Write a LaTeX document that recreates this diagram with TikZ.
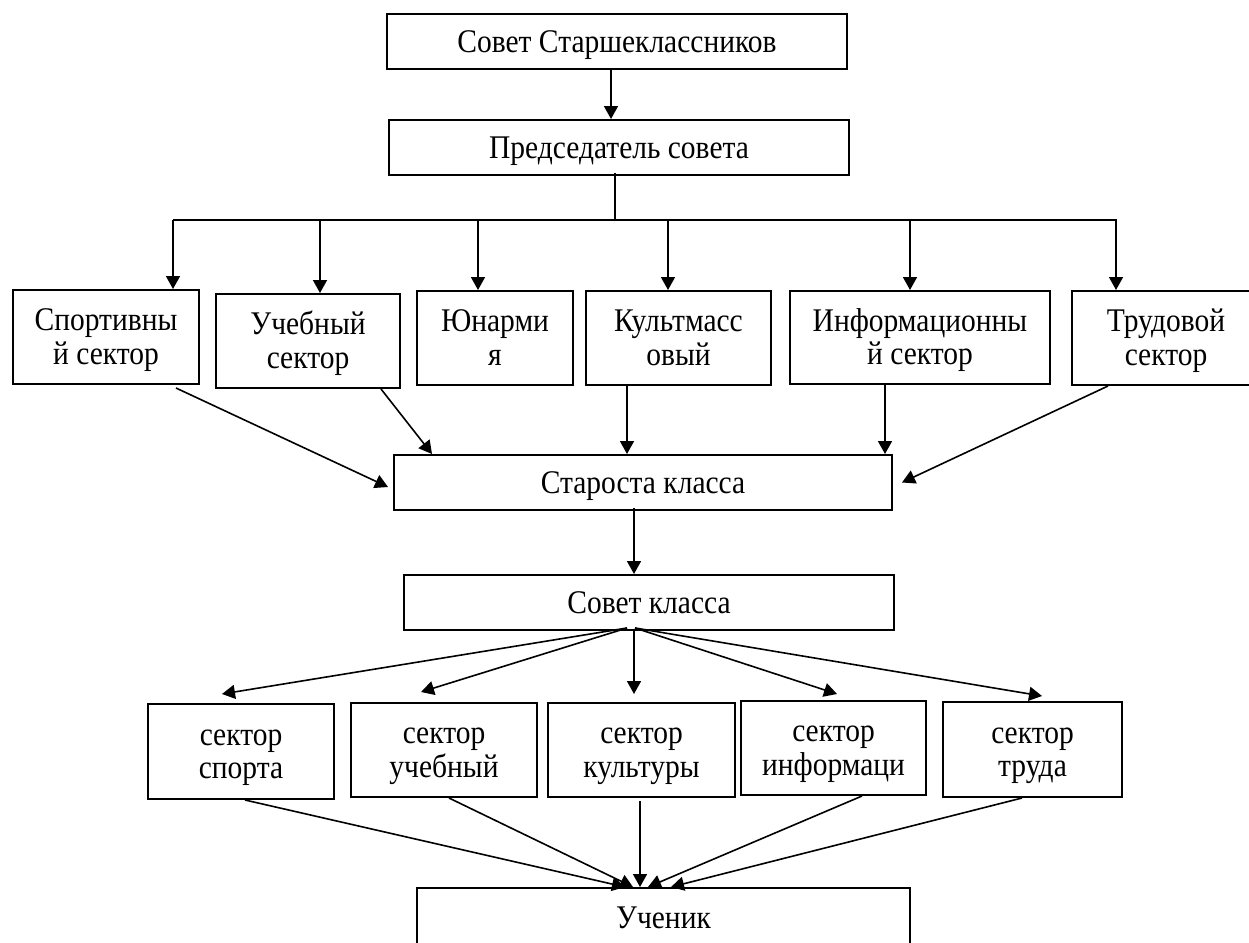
\documentclass[tikz,border=0pt]{standalone}
\usepackage{fontspec}
\usepackage{graphicx}
\setmainfont{Liberation Serif}
\usetikzlibrary{arrows.meta,calc}
\newcommand\vsone[1]{\scalebox{1}[1.12]{#1}}
\newcommand\twol[2]{\raisebox{0pt}[20pt][33pt]{\scalebox{1}[1.12]{\begin{tabular}[t]{@{}c@{}}#1\\#2\end{tabular}}}}
\begin{document}
\begin{tikzpicture}[x=1pt,y=-1pt,
  box/.style={draw,line width=2pt,inner sep=0pt,font=\fontsize{29.5}{30}\selectfont},
  one/.style={box,text height=21.3pt,text depth=0pt},
  arr/.style={line width=1.6pt,-{Triangle[length=13pt,width=14pt]}},
  ln/.style={line width=1.6pt}]
\useasboundingbox (0,0) rectangle (1249,942);
\clip (0,0) rectangle (1249,942);
\fill[white] (0,0) rectangle (1249,942);
% nodes
\node[one,minimum width=460pt,minimum height=55pt] (top) at (617,41.5) {\vsone{Совет Старшеклассников}};
\node[one,minimum width=460pt,minimum height=55pt] (pred) at (619,147.5) {\vsone{Председатель совета}};
\node[box,minimum width=186pt,minimum height=94pt] (spo) at (106,337) {\twol{Спортивны}{й сектор}};
\node[box,minimum width=184pt,minimum height=94pt] (ucb) at (308,341) {\twol{Учебный}{сектор}};
\node[box,minimum width=156pt,minimum height=94pt] (yun) at (495,338) {\twol{Юнарми}{я}};
\node[box,minimum width=185pt,minimum height=94pt] (kul) at (678.5,338) {\twol{Культмасс}{овый}};
\node[box,minimum width=260pt,minimum height=93pt] (inf) at (920,337.5) {\twol{Информационны}{й сектор}};
\node[box,minimum width=188pt,minimum height=94pt] (trd) at (1166,338) {\twol{Трудовой}{сектор}};
\node[one,minimum width=498pt,minimum height=55pt] (sta) at (643,482.5) {\vsone{Староста класса}};
\node[one,minimum width=490pt,minimum height=55pt] (sov) at (649,602.5) {\vsone{Совет класса}};
\node[box,minimum width=186pt,minimum height=95pt] (ls) at (241,751.5) {\twol{сектор}{спорта}};
\node[box,minimum width=186pt,minimum height=94pt] (lu) at (444,750) {\twol{сектор}{учебный}};
\node[box,minimum width=187pt,minimum height=94pt] (lk) at (641.5,750) {\twol{сектор}{культуры}};
\node[box,minimum width=185pt,minimum height=94pt] (li) at (833.5,748) {\twol{сектор}{информаци}};
\node[box,minimum width=179pt,minimum height=95pt] (lt) at (1032.5,749.5) {\twol{сектор}{труда}};
\node[one,minimum width=493pt,minimum height=60pt] (uch) at (663.5,918) {\vsone{Ученик}};
% top connectors
\draw[arr] ([xshift=-6pt]top.south) -- ([xshift=-6pt]top.south |- pred.north);
\coordinate (b1) at (173,220);
\coordinate (b2) at (320,220);
\coordinate (b3) at (478,220);
\coordinate (b4) at (668,220);
\coordinate (b5) at (910,220);
\coordinate (b6) at (1116,220);
\draw[ln] ([xshift=-4pt,yshift=3pt]pred.south) -- ([xshift=-4pt]pred.south |- b1);
\draw[ln] (b1) -- ([xshift=1pt]b6);
\draw[arr] (b1) -- (b1 |- spo.north);
\draw[arr] (b2) -- (b2 |- ucb.north);
\draw[arr] (b3) -- (b3 |- yun.north);
\draw[arr] (b4) -- (b4 |- kul.north);
\draw[arr] (b5) -- (b5 |- inf.north);
\draw[arr] (b6) -- (b6 |- trd.north);
% to starosta
\draw[arr] ([xshift=70pt,yshift=-3pt]spo.south) -- ([xshift=-5pt,yshift=-4.5pt]sta.west);
\draw[arr] ([xshift=73pt]ucb.south) -- ([xshift=39pt]sta.north west);
\draw[arr] ([xshift=-51.5pt]kul.south) -- ([xshift=-51.5pt]kul.south |- sta.north);
\draw[arr] ([xshift=-35pt]inf.south) -- ([xshift=-35pt]inf.south |- sta.north);
\draw[arr] ([xshift=-58pt]trd.south) -- ([xshift=9pt]sta.east);
\draw[arr] ([xshift=-9pt,yshift=3pt]sta.south) -- ([xshift=-9pt]sta.south |- sov.north);
% from sovet klassa
\coordinate (sL) at ([xshift=-22pt,yshift=3pt]sov.south);
\coordinate (sR) at ([xshift=-14pt,yshift=3pt]sov.south);
\draw[arr] (sL) -- ([xshift=-19pt,yshift=9pt]ls.north);
\draw[arr] (sL) -- ([xshift=-23pt,yshift=10pt]lu.north);
\draw[arr] ([xshift=-15pt]sov.south) -- ([xshift=-7.5pt,yshift=8pt]lk.north);
\draw[arr] (sR) -- ([xshift=3.5pt,yshift=6pt]li.north);
\draw[arr] (sR) -- ([xshift=9.5pt,yshift=5pt]lt.north);
% to uchenik
\draw[arr] ([xshift=4pt]ls.south) -- ([xshift=-38.5pt]uch.north);
\draw[arr] ([xshift=5pt]lu.south) -- ([xshift=-30.5pt]uch.north);
\draw[arr] ([xshift=-1.5pt,yshift=-3pt]lk.south) -- ([xshift=-23.5pt]uch.north);
\draw[arr] ([xshift=28.5pt]li.south) -- ([xshift=-15.5pt]uch.north);
\draw[arr] ([xshift=-10.5pt]lt.south) -- ([xshift=7.5pt]uch.north);
\end{tikzpicture}
\end{document}
